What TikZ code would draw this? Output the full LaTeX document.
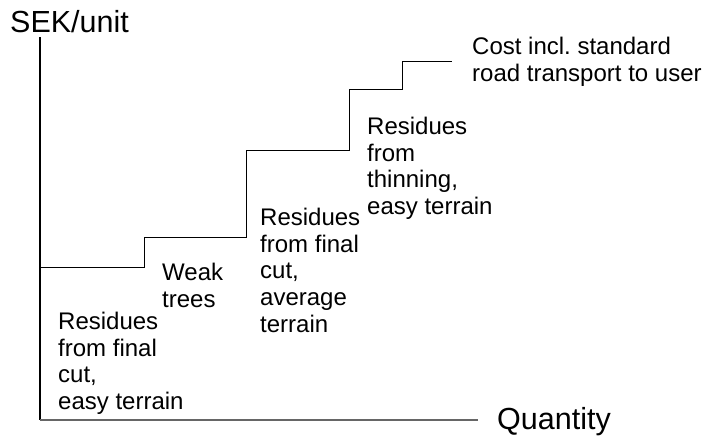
\documentclass[tikz,border=0pt]{standalone}
\usepackage{fontspec}
\setmainfont{Liberation Sans}
\frenchspacing
\tikzset{
  costchart/.style={
    x=1pt, y=-1pt,
    line cap=butt, line join=miter,
  },
  axisline/.style={line width=1.1pt},
  stairline/.style={line width=1pt},
  steplabel/.style={anchor=north west, inner sep=0pt, align=left,
    font=\fontsize{24}{26.7}\selectfont},
  axislabel/.style={anchor=base west, inner sep=0pt,
    font=\fontsize{30.5}{32}\selectfont},
}
\begin{document}
\begin{tikzpicture}
  [costchart]
  \useasboundingbox (0,0) rectangle (706,439);
  % axes
  \coordinate (origin) at (40,420);
  \coordinate (ytop) at (40,37);
  \coordinate (xend) at (478,420);
  \draw[axisline] (ytop) -- (origin);
  \draw[axisline, black!60] (origin) -- (xend);
  \node[axislabel] (ylab) at (10,32) {SEK/unit};
  \node[axislabel] (xlab) at (497,429) {Quantity};
  % cost steps
  \draw[stairline] (40,267) -- (144,267) -- (144,237) -- (246,237)
    -- (246,150) -- (349,150) -- (349,89) -- (402,89) -- (402,61) -- (452,61);
  \node[steplabel] (finaleasy) at (58,312) {Residues\\from final\\cut,\\easy terrain};
  \node[steplabel] (weak) at (162,263) {Weak\\trees};
  \node[steplabel] (finalavg) at (260,208) {Residues\\from final\\cut,\\average\\terrain};
  \node[steplabel] (thinning) at (367,117) {Residues\\from\\thinning,\\easy terrain};
  \node[steplabel] (transport) at (472,37) {Cost incl. standard\\road transport to user};
\end{tikzpicture}
\end{document}
